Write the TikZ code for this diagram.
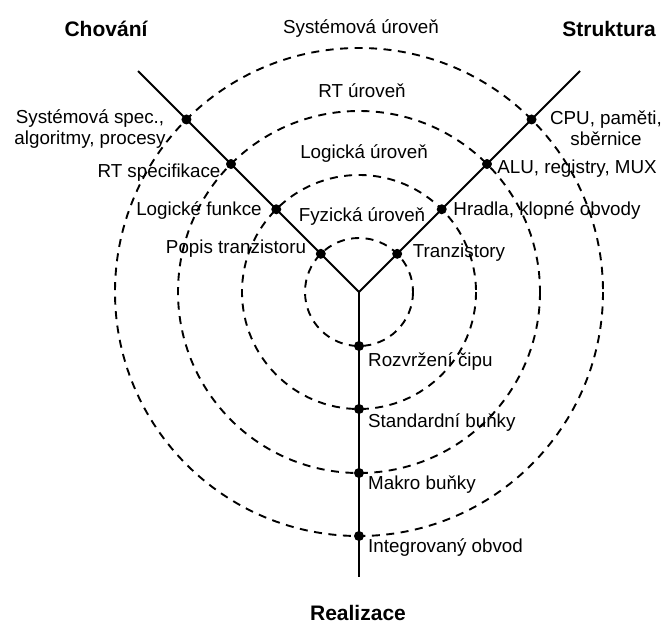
\documentclass[tikz,border=0pt]{standalone}
\usepackage{fontspec}
\setmainfont{Liberation Sans}
\usetikzlibrary{calc}
\begin{document}
\begin{tikzpicture}[x=1pt,y=-1pt,
  axis/.style={line width=2pt},
  level/.style={line width=1.9pt,dash pattern=on 8pt off 6.5pt},
  dot/.style={circle,fill=black,inner sep=0pt,minimum size=10pt},
  lbl/.style={font=\fontsize{18.8}{21.5}\selectfont,inner sep=0pt,align=center},
  ttl/.style={font=\fontsize{21}{24}\selectfont\bfseries,inner sep=0pt}]
\useasboundingbox (0,0) rectangle (664,624);

% centre of the chart and the three axis ends
\coordinate (c) at (359,292);
\coordinate (beh) at (138,71);
\coordinate (str) at (580,71);
\coordinate (phy) at (359,577);

% abstraction levels
\foreach \r in {54,117,181,244}
  \draw[level] (c) circle[radius=\r];

% axes
\draw[axis] (beh) -- (c) -- (str);
\draw[axis] (c) -- (phy);

% crossings of axes and levels (y axis points down)
\foreach \r/\n in {54/1,117/2,181/3,244/4}{
  \node[dot] (b\n) at ($(c)+(225:\r)$) {};
  \node[dot] (s\n) at ($(c)+(315:\r)$) {};
  \node[dot] (p\n) at ($(c)+(0,\r)$) {};
}

% domain titles
\node[ttl] (tb) at (106,29) {Chování};
\node[ttl] (ts) at (609,29) {Struktura};
\node[ttl] (tp) at (358,613) {Realizace};

% level names
\node[lbl] (l4) at (361,29) {Systémová úroveň};
\node[lbl] (l3) at (362,91) {RT úroveň};
\node[lbl] (l2) at (364,154) {Logická úroveň};
\node[lbl] (l1) at (362,217) {Fyzická úroveň};

% behavioural domain
\node[lbl] (bt4) at (90,129) {Systémová spec.,\\algoritmy, procesy};
\node[lbl] (bt3) at (159,173) {RT specifikace};
\node[lbl] (bt2) at (199,211) {Logické funkce};
\node[lbl] (bt1) at (236,249) {Popis tranzistoru};

% structural domain
\node[lbl] (st4) at (606,128) {CPU, paměti,\\sběrnice};
\node[lbl] (st3) at (577,169) {ALU, registry, MUX};
\node[lbl] (st2) at (547,211) {Hradla, klopné obvody};
\node[lbl] (st1) at (459,253) {Tranzistory};

% physical domain
\node[lbl,anchor=west] (pt1) at (368,362) {Rozvržení čipu};
\node[lbl,anchor=west] (pt2) at (368,423) {Standardní buňky};
\node[lbl,anchor=west] (pt3) at (368,485) {Makro buňky};
\node[lbl,anchor=west] (pt4) at (368,548) {Integrovaný obvod};
\end{tikzpicture}
\end{document}
